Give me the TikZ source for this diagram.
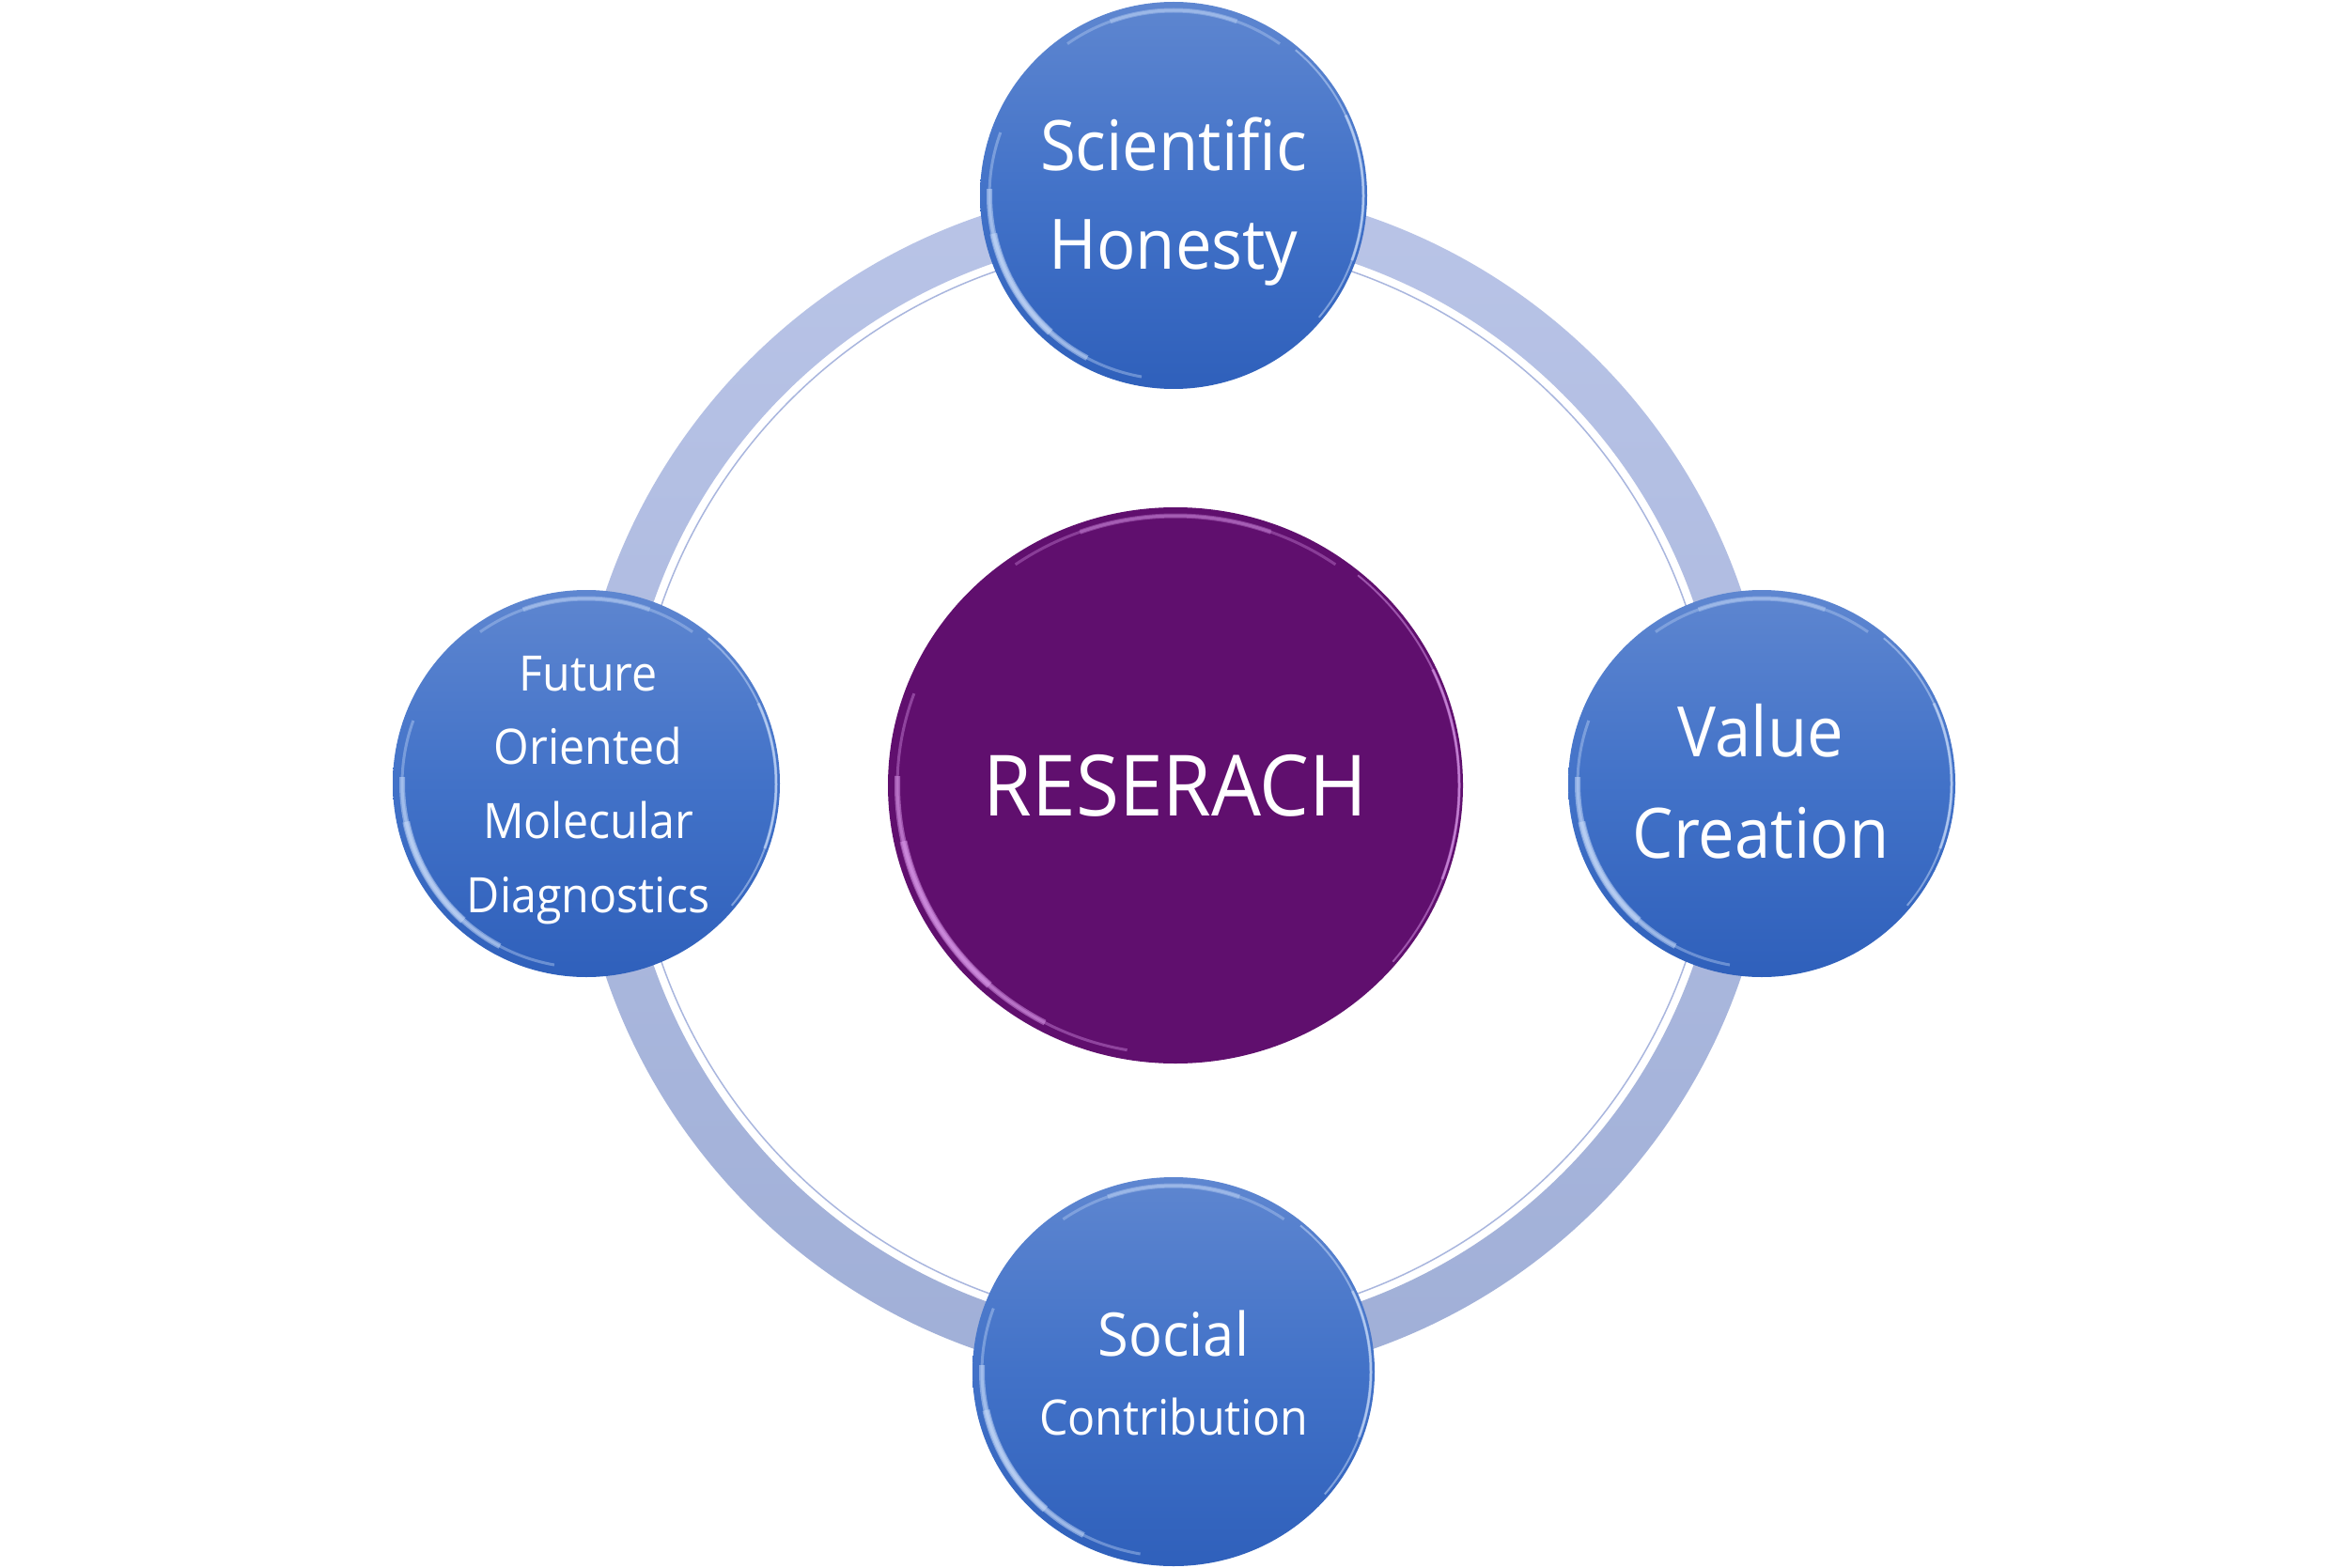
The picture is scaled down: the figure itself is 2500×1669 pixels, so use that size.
\documentclass[tikz,border=0pt]{standalone}
\usepackage{fontspec}
\setmainfont{Open Sans}[FakeStretch=0.93]
\usetikzlibrary{shapes.geometric}
\definecolor{ringA}{HTML}{B9C4E7}
\definecolor{ringB}{HTML}{A0AFD7}
\definecolor{ringLine}{HTML}{A9B6DE}
\definecolor{bubA}{HTML}{5E86D0}
\definecolor{bubM}{HTML}{4272C8}
\definecolor{bubB}{HTML}{2F60BB}
\definecolor{purp}{HTML}{600F6E}
\definecolor{purpHi}{HTML}{E8A8F8}
\definecolor{rimHi}{HTML}{D8E8FF}
\newcommand\rimarc[7]{% node, rx, ry, inset, from, to, style
  \draw[#7] (#1.center) ++(#5:{#2-#4} and {#3-#4}) arc[start angle=#5, end angle=#6, x radius={#2-#4}, y radius={#3-#4}];}
\newcommand\bubrims[4]{%
  \rimarc{#1}{#2}{#3}{10}{100}{200}{#4, line width=3, opacity=0.35}
  \rimarc{#1}{#2}{#3}{10}{118}{182}{#4, line width=6, opacity=0.45}
  \rimarc{#1}{#2}{#3}{10}{132}{168}{#4, line width=8, opacity=0.4}
  \rimarc{#1}{#2}{#3}{9}{235}{305}{#4, line width=3, opacity=0.3}
  \rimarc{#1}{#2}{#3}{9}{250}{290}{#4, line width=5, opacity=0.3}
  \rimarc{#1}{#2}{#3}{4}{-50}{40}{#4, line width=2, opacity=0.45}
  \rimarc{#1}{#2}{#3}{4}{-25}{20}{#4, line width=3, opacity=0.5}
}
\begin{document}
\begin{tikzpicture}[x=1pt,y=-1pt,
  bubble/.style={ellipse, inner sep=0pt, draw=none, top color=bubA, bottom color=bubB, middle color=bubM},
  core/.style={ellipse, inner sep=0pt, draw=none, fill=purp, minimum width=612pt, minimum height=592pt},
  lbl/.style={anchor=base, text=white, inner sep=0pt},
  big/.style={font=\fontsize{74}{80}\selectfont},
  mid/.style={font=\fontsize{64}{70}\selectfont},
  small/.style={font=\fontsize{52}{60}\selectfont},
  huge/.style={font=\fontsize{90}{96}\selectfont}]
\useasboundingbox (0,0) rectangle (2500,1669);
\fill[white] (0,0) rectangle (2500,1669);
\coordinate (C) at (1249,834);
% ring
\shade[top color=ringA, bottom color=ringB, even odd rule] (C) circle[radius=638] (C) circle[radius=586];
\draw[ringLine, line width=1.5] (C) circle[radius=577];
% bubbles
\node[bubble, minimum width=412pt, minimum height=412pt] (hon) at (1249,208) {};
\node[bubble, minimum width=412pt, minimum height=412pt] (fut) at (624,834) {};
\node[bubble, minimum width=412pt, minimum height=412pt] (val) at (1875,834) {};
\node[bubble, minimum width=428pt, minimum height=414pt] (soc) at (1249,1460) {};
\node[core] (res) at (1251,836) {};
\bubrims{hon}{206}{206}{rimHi}
\bubrims{fut}{206}{206}{rimHi}
\bubrims{val}{206}{206}{rimHi}
\bubrims{soc}{214}{207}{rimHi}
\bubrims{res}{306}{296}{purpHi}
% labels
\node[lbl, big] (t1) at (1249,182) {Scientific};
\node[lbl, big] (t2) at (1249,287) {Honesty};
\node[lbl, small] (t3) at (626,735) {Future};
\node[lbl, small] (t4) at (626,813) {Oriented};
\node[lbl, small] (t5) at (626,892) {Molecular};
\node[lbl, small] (t6) at (626,971) {Diagnostics};
\node[lbl, big] (t7) at (1874,805) {Value};
\node[lbl, big] (t8) at (1874,913) {Creation};
\node[lbl, mid] (t9) at (1249,1443) {Social};
\node[lbl, small] (t10) at (1249,1527) {Contribution};
\node[lbl, huge] (t11) at (1251,868) {RESERACH};
\end{tikzpicture}
\end{document}
